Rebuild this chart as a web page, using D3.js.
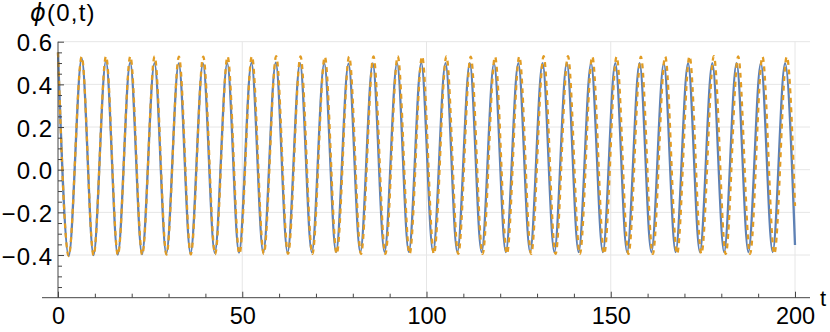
<!DOCTYPE html>
<html><head><meta charset="utf-8">
<script src="https://cdn.jsdelivr.net/npm/d3@7"></script>
<style>body{margin:0;background:#fff;} svg{display:block;font-family:"Liberation Sans",Arial,sans-serif;}</style>
</head><body><svg id="c" width="830" height="332"></svg>
<script>
// ---- data ----
const xMajorTicks = [0, 50, 100, 150, 200];
const xMinorTicks = [10, 20, 30, 40, 60, 70, 80, 90, 110, 120, 130, 140, 160, 170, 180, 190];
const yMajorTicks = [-0.4, -0.2, 0.0, 0.2, 0.4, 0.6];
const yMinorTicks = [-0.55, -0.5, -0.45, -0.35, -0.3, -0.25, -0.15, -0.1, -0.05, 0.05, 0.1, 0.15, 0.25, 0.3, 0.35, 0.45, 0.5, 0.55];
const xGrid = [50, 100, 150, 200];
const yGrid = [-0.4, -0.2, 0.0, 0.2, 0.4, 0.6];

// blue solid series: turning points (t, value)
const blueT = [0, 2.90, 6.43, 9.63, 13.01, 16.21, 19.59, 22.79, 26.18, 29.38, 32.76, 35.96, 39.34, 42.54, 45.92, 49.12, 52.50, 55.70, 59.09, 62.29, 65.67, 68.87, 72.25, 75.45, 78.83, 82.03, 85.41, 88.61, 92.00, 95.20, 98.58, 101.78, 105.16, 108.36, 111.74, 114.94, 118.32, 121.52, 124.91, 128.11, 131.49, 134.69, 138.07, 141.27, 144.65, 147.85, 151.23, 154.43, 157.82, 161.02, 164.40, 167.60, 170.98, 174.18, 177.56, 180.76, 184.14, 187.34, 190.73, 193.93, 197.31, 200];
const blueV = [0.55, -0.405, 0.522, -0.400, 0.510, -0.398, 0.503, -0.396, 0.500, -0.394, 0.498, -0.392, 0.498, -0.390, 0.500, -0.389, 0.501, -0.388, 0.502, -0.388, 0.500, -0.387, 0.499, -0.386, 0.497, -0.386, 0.498, -0.385, 0.500, -0.385, 0.501, -0.385, 0.500, -0.385, 0.499, -0.386, 0.498, -0.386, 0.499, -0.386, 0.500, -0.386, 0.501, -0.386, 0.500, -0.386, 0.500, -0.386, 0.499, -0.386, 0.498, -0.386, 0.499, -0.386, 0.500, -0.386, 0.500, -0.386, 0.499, -0.386, 0.499, -0.353];

// orange dashed series: turning points (t, value)
const orangeT = [0, 2.90, 6.43, 9.65, 13.03, 16.25, 19.63, 22.85, 26.22, 29.44, 32.82, 36.04, 39.42, 42.64, 46.02, 49.24, 52.62, 55.84, 59.21, 62.43, 65.81, 69.03, 72.41, 75.63, 79.01, 82.23, 85.61, 88.83, 92.20, 95.42, 98.80, 102.02, 105.40, 108.62, 112.00, 115.22, 118.60, 121.82, 125.19, 128.41, 131.79, 135.01, 138.39, 141.61, 144.99, 148.21, 151.59, 154.81, 158.18, 161.40, 164.78, 168.00, 171.38, 174.60, 177.98, 181.20, 184.58, 187.80, 191.17, 194.39, 197.77, 200];
const orangeV = [0.55, -0.405, 0.530, -0.402, 0.532, -0.400, 0.532, -0.399, 0.531, -0.398, 0.530, -0.397, 0.530, -0.396, 0.531, -0.395, 0.532, -0.395, 0.532, -0.395, 0.531, -0.395, 0.530, -0.395, 0.530, -0.395, 0.531, -0.395, 0.532, -0.395, 0.532, -0.395, 0.531, -0.395, 0.530, -0.395, 0.530, -0.395, 0.531, -0.395, 0.532, -0.395, 0.532, -0.395, 0.531, -0.395, 0.530, -0.395, 0.530, -0.395, 0.531, -0.395, 0.532, -0.395, 0.532, -0.395, 0.531, -0.395, 0.530, -0.395, 0.530, -0.17];

// ---- drawing ----
const svg = d3.select("#c");
const x = d3.scaleLinear().domain([0, 200]).range([58, 795]);
const y = d3.scaleLinear().domain([-0.6, 0.6]).range([297.7, 41.7]);
const x0 = 42, x1 = 810;
const axisY = y(-0.6);
const FONT = "Liberation Sans, Arial, sans-serif";

// grid
svg.append("g").selectAll("line").data(yGrid).join("line")
  .attr("x1", x(0)).attr("x2", x1).attr("y1", d => y(d)).attr("y2", d => y(d))
  .attr("stroke", "#e6e6e6").attr("stroke-width", 1);
svg.append("g").selectAll("line").data(xGrid).join("line")
  .attr("x1", d => x(d)).attr("x2", d => x(d)).attr("y1", y(0.6)).attr("y2", axisY)
  .attr("stroke", "#e6e6e6").attr("stroke-width", 1);

// curves
const blue = blueT.map((t, i) => [t, blueV[i]]);
const orange = orangeT.map((t, i) => [t, orangeV[i]]);
const line = d3.line().x(d => x(d[0])).y(d => y(d[1])).curve(d3.curveMonotoneX);
svg.append("path").datum(blue).attr("d", line).attr("fill", "none")
  .attr("stroke", "#5E81B5").attr("stroke-width", 2.3);
svg.append("path").datum(orange).attr("d", line).attr("fill", "none")
  .attr("stroke", "#E19C24").attr("stroke-width", 2.3).attr("stroke-dasharray", "5,4.5");

// axes
const axisColor = "#444";
const yAx = svg.append("g").attr("transform", `translate(${x(0)},0)`)
  .call(d3.axisLeft(y).tickValues(yMajorTicks).tickSize(-6).tickSizeOuter(0).tickPadding(5).tickFormat(d3.format(".1f")));
yAx.select(".domain").remove();
yAx.selectAll("line").attr("stroke", axisColor);
yAx.selectAll("text").attr("font-size", 24).attr("letter-spacing", 1).attr("dy", "0.38em")
  .attr("fill", "#000").attr("font-family", FONT);
const yMin = svg.append("g").attr("transform", `translate(${x(0)},0)`)
  .call(d3.axisLeft(y).tickValues(yMinorTicks).tickSize(-4).tickFormat(""));
yMin.select(".domain").remove();
yMin.selectAll("line").attr("stroke", axisColor);
svg.append("line").attr("x1", x(0)).attr("x2", x(0)).attr("y1", y(0.6)).attr("y2", axisY).attr("stroke", axisColor);

const xAx = svg.append("g").attr("transform", `translate(0,${axisY})`)
  .call(d3.axisBottom(x).tickValues(xMajorTicks).tickSize(-6).tickSizeOuter(0).tickPadding(10).tickFormat(d3.format("d")));
xAx.select(".domain").remove();
xAx.selectAll("line").attr("stroke", axisColor);
xAx.selectAll("text").attr("font-size", 23.5).attr("fill", "#000").attr("font-family", FONT);
const xMin = svg.append("g").attr("transform", `translate(0,${axisY})`)
  .call(d3.axisBottom(x).tickValues(xMinorTicks).tickSize(-4).tickFormat(""));
xMin.select(".domain").remove();
xMin.selectAll("line").attr("stroke", axisColor);
svg.append("line").attr("x1", x0).attr("x2", x1).attr("y1", axisY).attr("y2", axisY).attr("stroke", axisColor);

// axis labels
svg.append("text").attr("x", 820).attr("y", 306).attr("font-size", 22).attr("font-family", FONT).text("t");
const lab = svg.append("text").attr("x", 30).attr("y", 20.5).attr("font-size", 24)
  .attr("letter-spacing", 1.2).attr("font-family", FONT);
lab.append("tspan").attr("font-style", "italic").attr("font-family", "DejaVu Sans, sans-serif").text("ϕ");
lab.append("tspan").text("(0,t)");
</script></body></html>
